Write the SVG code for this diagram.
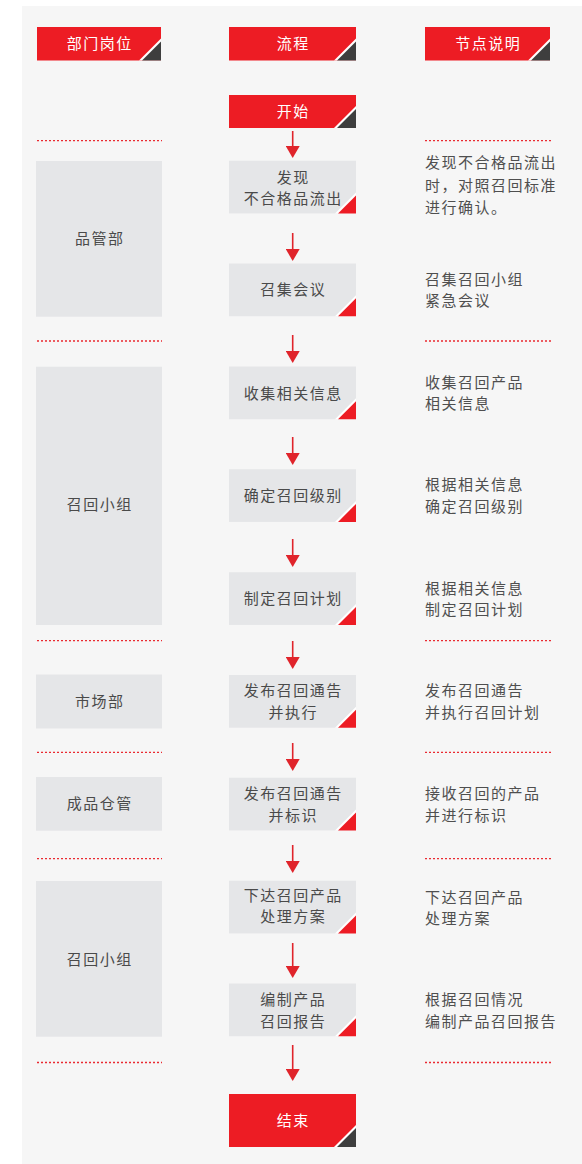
<svg xmlns="http://www.w3.org/2000/svg" width="582" height="1164" viewBox="0 0 582 1164">
<style>
text{font-family:"Noto Sans CJK SC","Noto Sans",sans-serif;font-size:15px;letter-spacing:1.5px}
.hd{fill:#ed1c24}
.dk{fill:#3e3e3e}
.wt{fill:#ffffff}
.gb{fill:#e5e6e8}
.rt{fill:#ed1c24}
.tw{fill:#ffffff;text-anchor:middle}
.tc{fill:#4a4a4a;text-anchor:middle}
.tr{fill:#4f4f4f}
.dot{stroke:#ea2a31;stroke-width:1.3;stroke-dasharray:2 2;fill:none}
.arr{stroke:#e0242b;stroke-width:1.6;fill:none}
</style>
<defs>
<marker id="ah" viewBox="0 -7 12 14" refX="0" refY="0" markerWidth="12" markerHeight="14" markerUnits="userSpaceOnUse" orient="auto">
<path d="M0,-7 L12,0 L0,7 z" fill="#e0242b"/>
</marker>
</defs>
<rect x="22" y="6" width="560" height="1158" fill="#f6f6f6"/>

<g id="dividers">
<path class="dot" d="M37,140.7H162M425,140.7H551"/>
<path class="dot" d="M37,341H162M425,341H551"/>
<path class="dot" d="M37,640.7H162M425,640.7H551"/>
<path class="dot" d="M37,752.3H162M425,752.3H551"/>
<path class="dot" d="M37,858.7H162M425,858.7H551"/>
<path class="dot" d="M37,1062.5H162M425,1062.5H551"/>
</g>

<g id="hdr-dept">
<rect class="hd" x="37" y="27" width="124" height="33.5"/>
<path class="wt" d="M161,60.5H139L161,38.5z"/>
<path class="dk" d="M161,60.5H142L161,41.5z"/>
<text class="tw" x="99.7" y="49.2">部门岗位</text>
</g>
<g id="hdr-flow">
<rect class="hd" x="229" y="27" width="127" height="33.5"/>
<path class="wt" d="M356,60.5H334L356,38.5z"/>
<path class="dk" d="M356,60.5H337L356,41.5z"/>
<text class="tw" x="293.2" y="49.2">流程</text>
</g>
<g id="hdr-note">
<rect class="hd" x="425" y="27" width="125" height="33.5"/>
<path class="wt" d="M550,60.5H528L550,38.5z"/>
<path class="dk" d="M550,60.5H531L550,41.5z"/>
<text class="tw" x="488.2" y="49.2">节点说明</text>
</g>

<g id="start">
<rect class="hd" x="229" y="95" width="127" height="33"/>
<path class="wt" d="M356,128H334L356,106z"/>
<path class="dk" d="M356,128H337L356,109z"/>
<text class="tw" x="293.2" y="117">开始</text>
</g>

<g id="lane-qa">
<rect class="gb" x="36" y="161" width="126" height="155.7"/>
<text class="tc" x="99.7" y="244">品管部</text>
</g>
<g id="lane-team1">
<rect class="gb" x="36" y="366.7" width="126" height="258.3"/>
<text class="tc" x="99.7" y="509.5">召回小组</text>
</g>
<g id="lane-market">
<rect class="gb" x="36" y="674.5" width="126" height="54"/>
<text class="tc" x="99.7" y="706.5">市场部</text>
</g>
<g id="lane-store">
<rect class="gb" x="36" y="777" width="126" height="53.7"/>
<text class="tc" x="99.7" y="808.5">成品仓管</text>
</g>
<g id="lane-team2">
<rect class="gb" x="36" y="881" width="126" height="155.7"/>
<text class="tc" x="99.7" y="964.5">召回小组</text>
</g>

<g id="n1">
<rect class="gb" x="229" y="160.7" width="127" height="52.7"/>
<path class="wt" d="M356,213.4H335L356,192.4z"/>
<path class="rt" d="M356,213.4H338L356,195.4z"/>
<text class="tc" x="293.2" y="182.8">发现</text>
<text class="tc" x="293.2" y="204.3">不合格品流出</text>
</g>
<g id="n2">
<rect class="gb" x="229" y="263.5" width="127" height="52.7"/>
<path class="wt" d="M356,316.2H335L356,295.2z"/>
<path class="rt" d="M356,316.2H338L356,298.2z"/>
<text class="tc" x="293.2" y="295.3">召集会议</text>
</g>
<g id="n3">
<rect class="gb" x="229" y="366.5" width="127" height="52.7"/>
<path class="wt" d="M356,419.2H335L356,398.2z"/>
<path class="rt" d="M356,419.2H338L356,401.2z"/>
<text class="tc" x="293.2" y="398.5">收集相关信息</text>
</g>
<g id="n4">
<rect class="gb" x="229" y="469.2" width="127" height="52.7"/>
<path class="wt" d="M356,521.9H335L356,500.9z"/>
<path class="rt" d="M356,521.9H338L356,503.9z"/>
<text class="tc" x="293.2" y="501">确定召回级别</text>
</g>
<g id="n5">
<rect class="gb" x="229" y="572.2" width="127" height="52.7"/>
<path class="wt" d="M356,624.9H335L356,603.9z"/>
<path class="rt" d="M356,624.9H338L356,606.9z"/>
<text class="tc" x="293.2" y="604">制定召回计划</text>
</g>
<g id="n6">
<rect class="gb" x="229" y="675" width="127" height="52.7"/>
<path class="wt" d="M356,727.7H335L356,706.7z"/>
<path class="rt" d="M356,727.7H338L356,709.7z"/>
<text class="tc" x="293.2" y="696">发布召回通告</text>
<text class="tc" x="293.2" y="717.5">并执行</text>
</g>
<g id="n7">
<rect class="gb" x="229" y="777.7" width="127" height="52.7"/>
<path class="wt" d="M356,830.4H335L356,809.4z"/>
<path class="rt" d="M356,830.4H338L356,812.4z"/>
<text class="tc" x="293.2" y="798.5">发布召回通告</text>
<text class="tc" x="293.2" y="820.5">并标识</text>
</g>
<g id="n8">
<rect class="gb" x="229" y="880.7" width="127" height="52.7"/>
<path class="wt" d="M356,933.4H335L356,912.4z"/>
<path class="rt" d="M356,933.4H338L356,915.4z"/>
<text class="tc" x="293.2" y="900.5">下达召回产品</text>
<text class="tc" x="293.2" y="922">处理方案</text>
</g>
<g id="n9">
<rect class="gb" x="229" y="983.5" width="127" height="52.7"/>
<path class="wt" d="M356,1036.2H335L356,1015.2z"/>
<path class="rt" d="M356,1036.2H338L356,1018.2z"/>
<text class="tc" x="293.2" y="1004.5">编制产品</text>
<text class="tc" x="293.2" y="1026.5">召回报告</text>
</g>
<g id="end">
<rect class="hd" x="229" y="1094" width="127" height="53"/>
<path class="wt" d="M356,1147H334L356,1125z"/>
<path class="dk" d="M356,1147H337L356,1128z"/>
<text class="tw" x="293.2" y="1126">结束</text>
</g>

<g id="notes">
<text class="tr" x="425" y="168">发现不合格品流出</text>
<text class="tr" x="425" y="190.5">时，对照召回标准</text>
<text class="tr" x="425" y="213">进行确认。</text>
<text class="tr" x="425" y="284.5">召集召回小组</text>
<text class="tr" x="425" y="306">紧急会议</text>
<text class="tr" x="425" y="387.5">收集召回产品</text>
<text class="tr" x="425" y="409">相关信息</text>
<text class="tr" x="425" y="490">根据相关信息</text>
<text class="tr" x="425" y="511.5">确定召回级别</text>
<text class="tr" x="425" y="593.5">根据相关信息</text>
<text class="tr" x="425" y="615">制定召回计划</text>
<text class="tr" x="425" y="696">发布召回通告</text>
<text class="tr" x="425" y="717.5">并执行召回计划</text>
<text class="tr" x="425" y="798.5">接收召回的产品</text>
<text class="tr" x="425" y="820.5">并进行标识</text>
<text class="tr" x="425" y="902.5">下达召回产品</text>
<text class="tr" x="425" y="924">处理方案</text>
<text class="tr" x="425" y="1004.5">根据召回情况</text>
<text class="tr" x="425" y="1026.5">编制产品召回报告</text>
</g>

<g id="connectors">
<path class="arr" marker-end="url(#ah)" d="M292.7,131V146"/>
<path class="arr" marker-end="url(#ah)" d="M292.7,233V249"/>
<path class="arr" marker-end="url(#ah)" d="M292.7,335V351"/>
<path class="arr" marker-end="url(#ah)" d="M292.7,437V453"/>
<path class="arr" marker-end="url(#ah)" d="M292.7,539V555"/>
<path class="arr" marker-end="url(#ah)" d="M292.7,641V657"/>
<path class="arr" marker-end="url(#ah)" d="M292.7,743V759"/>
<path class="arr" marker-end="url(#ah)" d="M292.7,845V861"/>
<path class="arr" marker-end="url(#ah)" d="M292.7,943V966"/>
<path class="arr" marker-end="url(#ah)" d="M292.7,1045V1069"/>
</g>
</svg>
